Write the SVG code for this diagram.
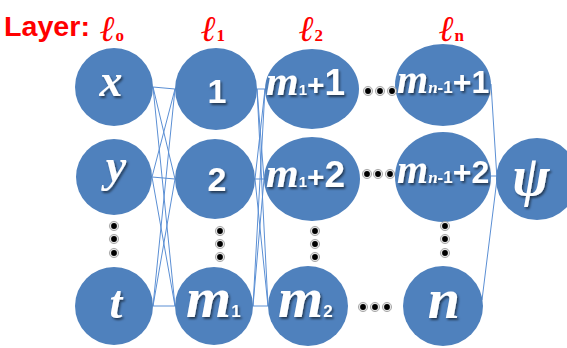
<svg xmlns="http://www.w3.org/2000/svg" width="567" height="348" viewBox="0 0 567 348">
  <defs>
    <filter id="shadow" x="-20%" y="-20%" width="140%" height="140%">
      <feDropShadow dx="1.5" dy="2" stdDeviation="1.2" flood-color="#000" flood-opacity="0.55"/>
    </filter>
    <g id="dot">
      <circle r="4.6" fill="#e4e4e4" stroke="#9a9a9a" stroke-width="0.8"/>
      <circle r="2.9" fill="#000"/>
    </g>
  </defs>
  <style>
    .node { fill: #4f81bd; }
    .lbl { fill: #fff; filter: url(#shadow); }
    .var { font-family: "Liberation Serif", serif; font-style: italic; font-weight: bold; }
    .num { font-family: "Liberation Sans", sans-serif; font-weight: bold; }
    .layer { fill: #ff0000; }
    .title { font-family: "Liberation Sans", sans-serif; font-weight: bold; font-size: 27px; }
    .ell { font-family: "DejaVu Serif", serif; font-style: italic; font-weight: bold; font-size: 36px; }
    .ellsub { font-family: "Liberation Serif", serif; font-weight: bold; font-size: 17px; }
    .edge { stroke: #5b8fd4; stroke-width: 1; fill: none; }
  </style>

  <!-- layer captions -->
  <g id="layer-captions" class="layer">
    <text class="title" x="4" y="36" textLength="86" lengthAdjust="spacingAndGlyphs">Layer:</text>
    <text x="100" y="41"><tspan class="ell">ℓ</tspan><tspan class="ellsub">o</tspan></text>
    <text x="201" y="41"><tspan class="ell">ℓ</tspan><tspan class="ellsub">1</tspan></text>
    <text x="299" y="41"><tspan class="ell">ℓ</tspan><tspan class="ellsub">2</tspan></text>
    <text x="439" y="41"><tspan class="ell">ℓ</tspan><tspan class="ellsub">n</tspan></text>
  </g>

  <!-- connectors -->
  <g id="connectors" class="edge">
    <!-- layer 0 to layer 1 -->
    <line x1="153" y1="87" x2="175" y2="89"/>
    <line x1="153" y1="87" x2="175" y2="179"/>
    <line x1="153" y1="87" x2="175" y2="306"/>
    <line x1="152" y1="177" x2="175" y2="89"/>
    <line x1="152" y1="177" x2="175" y2="179"/>
    <line x1="152" y1="177" x2="175" y2="306"/>
    <line x1="153" y1="306" x2="175" y2="89"/>
    <line x1="153" y1="306" x2="175" y2="179"/>
    <line x1="153" y1="306" x2="175" y2="306"/>
    <!-- layer 1 to layer 2 -->
    <line x1="257" y1="89" x2="265" y2="89"/>
    <line x1="257" y1="89" x2="264" y2="179"/>
    <line x1="257" y1="89" x2="268" y2="306"/>
    <line x1="255" y1="179" x2="265" y2="89"/>
    <line x1="255" y1="179" x2="264" y2="179"/>
    <line x1="255" y1="179" x2="268" y2="306"/>
    <line x1="253" y1="306" x2="265" y2="89"/>
    <line x1="253" y1="306" x2="264" y2="179"/>
    <line x1="253" y1="306" x2="268" y2="306"/>
    <!-- layer n to output -->
    <line x1="491" y1="84" x2="497" y2="179"/>
    <line x1="491" y1="176" x2="497" y2="176"/>
    <line x1="482" y1="300" x2="497" y2="179"/>
  </g>

  <!-- layer 0 -->
  <g id="node-x">
    <circle class="node" cx="114" cy="87" r="39"/>
    <text class="lbl var" x="111" y="96" font-size="46" text-anchor="middle">x</text>
  </g>
  <g id="node-y">
    <circle class="node" cx="114" cy="177" r="38"/>
    <text class="lbl var" x="116" y="181" font-size="46" text-anchor="middle">y</text>
  </g>
  <g id="node-t">
    <circle class="node" cx="114" cy="306" r="39"/>
    <text class="lbl var" x="116" y="318" font-size="46" text-anchor="middle">t</text>
  </g>

  <!-- layer 1 -->
  <g id="node-1">
    <circle class="node" cx="216" cy="89" r="41"/>
    <text class="lbl num" x="217" y="103" font-size="34" text-anchor="middle">1</text>
  </g>
  <g id="node-2">
    <circle class="node" cx="215" cy="179" r="40"/>
    <text class="lbl num" x="217" y="191" font-size="34" text-anchor="middle">2</text>
  </g>
  <g id="node-m1">
    <circle class="node" cx="214" cy="306" r="39"/>
    <text class="lbl" x="186" y="317"><tspan class="var" font-size="58">m</tspan><tspan class="num" font-size="17">1</tspan></text>
  </g>

  <!-- layer 2 -->
  <g id="node-m1p1">
    <ellipse class="node" cx="312" cy="89" rx="47" ry="40"/>
    <text class="lbl" x="266" y="95"><tspan class="var" font-size="42">m</tspan><tspan class="num" font-size="15">1</tspan><tspan class="num" font-size="30">+</tspan><tspan class="num" font-size="37">1</tspan></text>
  </g>
  <g id="node-m1p2">
    <ellipse class="node" cx="312" cy="179" rx="48" ry="42"/>
    <text class="lbl" x="266" y="187"><tspan class="var" font-size="42">m</tspan><tspan class="num" font-size="15">1</tspan><tspan class="num" font-size="30">+</tspan><tspan class="num" font-size="37">2</tspan></text>
  </g>
  <g id="node-m2">
    <circle class="node" cx="308" cy="306" r="40"/>
    <text class="lbl" x="278" y="317"><tspan class="var" font-size="58">m</tspan><tspan class="num" font-size="17">2</tspan></text>
  </g>

  <!-- layer n -->
  <g id="node-mn1p1">
    <ellipse class="node" cx="443" cy="85" rx="48" ry="41"/>
    <text class="lbl" x="397" y="93"><tspan class="var" font-size="40">m</tspan><tspan class="var" font-size="17">n</tspan><tspan class="num" font-size="17">-1</tspan><tspan class="num" font-size="32">+1</tspan></text>
  </g>
  <g id="node-mn1p2">
    <ellipse class="node" cx="443" cy="177" rx="48" ry="45"/>
    <text class="lbl" x="397" y="183"><tspan class="var" font-size="40">m</tspan><tspan class="var" font-size="17">n</tspan><tspan class="num" font-size="17">-1</tspan><tspan class="num" font-size="32">+2</tspan></text>
  </g>
  <g id="node-n">
    <circle class="node" cx="443" cy="306" r="40"/>
    <text class="lbl var" x="444" y="318" font-size="58" text-anchor="middle">n</text>
  </g>

  <!-- output -->
  <g id="node-psi">
    <circle class="node" cx="537" cy="179" r="41"/>
    <text class="lbl var" x="531" y="195" font-size="56" text-anchor="middle">ψ</text>
  </g>

  <!-- ellipsis dots -->
  <g id="ellipses">
    <use href="#dot" x="114" y="226"/><use href="#dot" x="114" y="239"/><use href="#dot" x="114" y="253"/>
    <use href="#dot" x="220" y="231"/><use href="#dot" x="220" y="244"/><use href="#dot" x="220" y="257"/>
    <use href="#dot" x="315" y="231"/><use href="#dot" x="315" y="244"/><use href="#dot" x="315" y="257"/>
    <use href="#dot" x="445" y="226"/><use href="#dot" x="445" y="239"/><use href="#dot" x="445" y="253"/>
    <use href="#dot" x="368" y="91"/><use href="#dot" x="380" y="91"/><use href="#dot" x="392" y="91"/>
    <use href="#dot" x="367" y="174"/><use href="#dot" x="378" y="174"/><use href="#dot" x="390" y="174"/>
    <use href="#dot" x="363" y="307"/><use href="#dot" x="375" y="307"/><use href="#dot" x="387" y="307"/>
  </g>
</svg>
